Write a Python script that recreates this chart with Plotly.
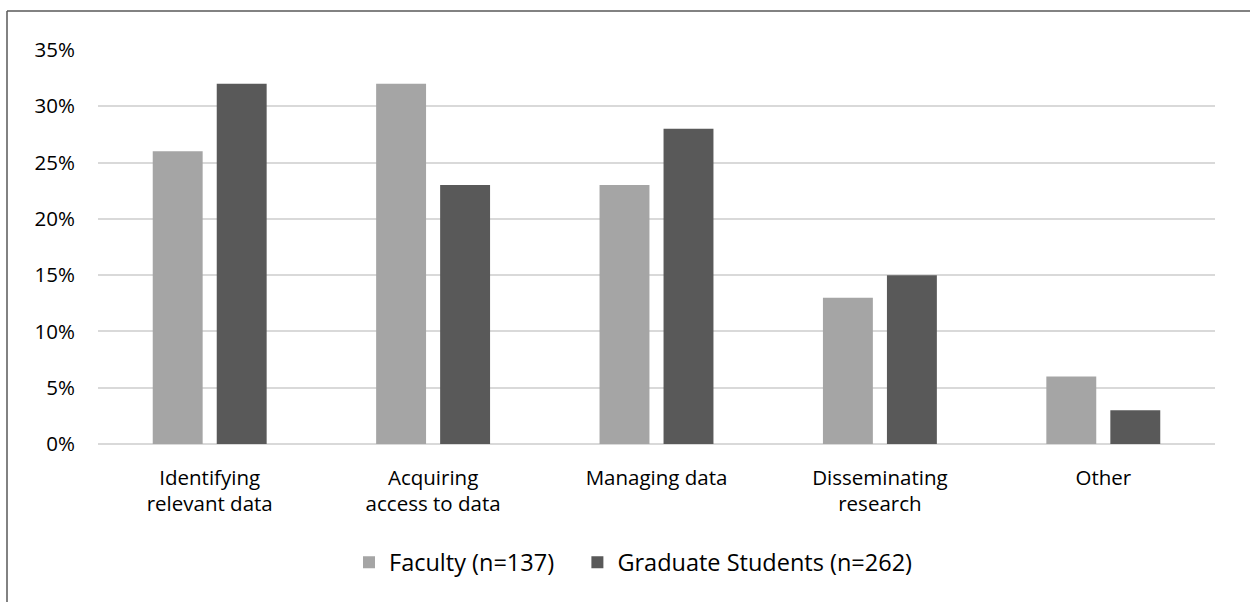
import plotly.graph_objects as go

categories = ["Identifying<br>relevant data", "Acquiring<br>access to data", "Managing data",
              "Disseminating<br>research", "Other"]
faculty = [26, 32, 23, 13, 6]
grad = [32, 23, 28, 15, 3]
series_names = ["Faculty (n=137)", "Graduate Students (n=262)"]
tick_vals = [0, 5, 10, 15, 20, 25, 30, 35]
tick_text = [f"{v}%" for v in tick_vals]

FONT = "Open Sans"
W, H = 1250, 602
L, R, T, B = 98, 35, 50, 158
PAD = "\u00a0\u00a0\u00a0"  # extra spacing between legend entries

fig = go.Figure()
fig.add_trace(go.Bar(x=categories, y=faculty, name=series_names[0] + PAD,
                     marker=dict(color="#a5a5a5", line=dict(width=0))))
fig.add_trace(go.Bar(x=categories, y=grad, name=series_names[1],
                     marker=dict(color="#595959", line=dict(width=0))))

pw = W - L - R
ph = H - T - B
# border lines (top and left) of chart frame
bx = (7 - L) / pw
by = 1 + (T - 11) / ph
fig.add_shape(type="line", xref="paper", yref="paper", x0=bx, x1=1.2, y0=by, y1=by,
              line=dict(color="#595959", width=1.5))
fig.add_shape(type="line", xref="paper", yref="paper", x0=bx, x1=bx, y0=by, y1=-0.6,
              line=dict(color="#595959", width=1.5))

fig.update_layout(
    width=W, height=H,
    margin=dict(l=L, r=R, t=T, b=B),
    paper_bgcolor="white", plot_bgcolor="white",
    barmode="group", bargap=0.427, bargroupgap=0.22,
    font=dict(family=FONT, size=20.5, color="#000000"),
    showlegend=True,
    legend=dict(orientation="h", x=(349 - L) / pw, xanchor="left", y=-0.245, yanchor="top",
                font=dict(family=FONT, size=23.5, color="#000000"),
                itemwidth=30, itemclick=False, traceorder="normal"),
    xaxis=dict(showgrid=False, showline=False, ticks="", tickfont=dict(size=20.5),
               ticklabelstandoff=19),
    yaxis=dict(range=[0, 35], tickvals=tick_vals, ticktext=tick_text,
               showgrid=True, gridcolor="#d9d9d9", gridwidth=1.5,
               zeroline=True, zerolinecolor="#d9d9d9", zerolinewidth=1.5,
               showline=False, ticks="", ticklabelstandoff=22,
               tickfont=dict(size=20.5)),
)

fig.write_html("out.html")
